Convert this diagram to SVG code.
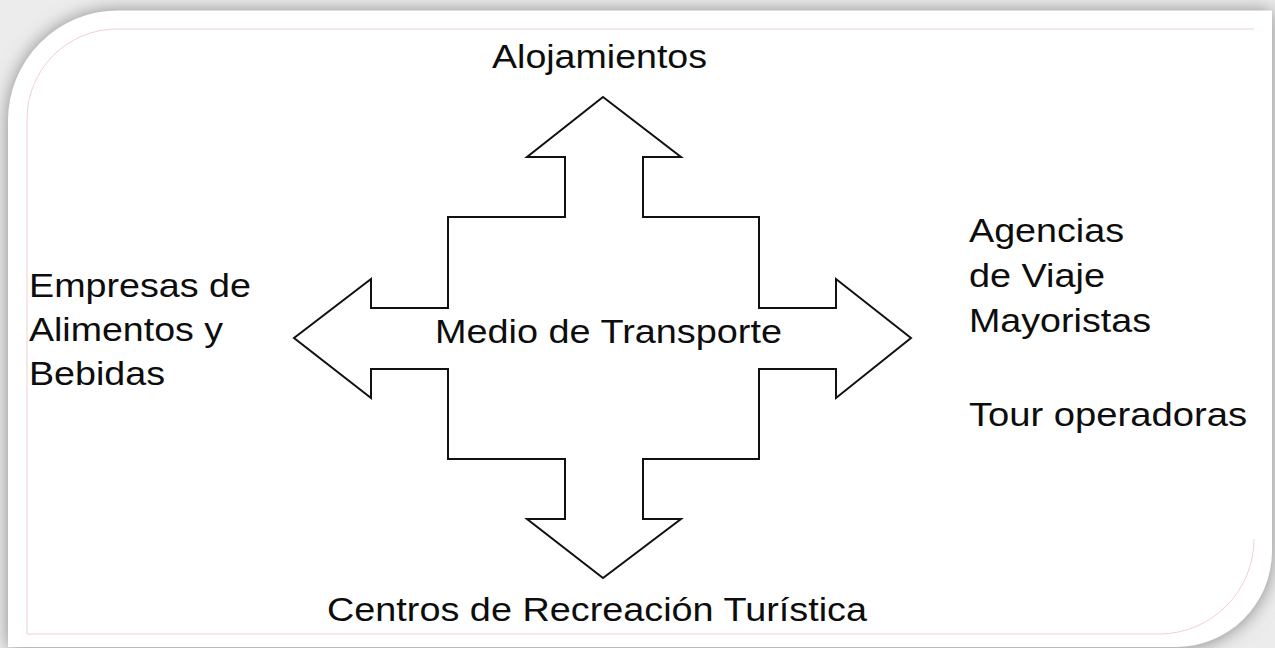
<svg xmlns="http://www.w3.org/2000/svg" width="1275" height="648" viewBox="0 0 1275 648">
  <style>
    .lbl { font-family: "Liberation Sans", Arial, sans-serif; font-size: 33px; fill: #0d0d0d; }
    .cross { fill: #ffffff; stroke: #111111; stroke-width: 2; stroke-linejoin: miter; }
    .inner { fill: none; stroke: #f3cfd0; stroke-width: 1; }
  </style>
  <defs>
    <filter id="shadow" x="-10%" y="-10%" width="120%" height="120%">
      <feGaussianBlur stdDeviation="9"/>
    </filter>
  </defs>

  <g id="background">
    <rect x="0" y="0" width="1275" height="648" fill="#ececec"/>
    <path d="M118,10.5 H1272 V552 A96,96 0 0 1 1176,648 H8 V120.5 A110,110 0 0 1 118,10.5 Z" fill="#8a8a8a" filter="url(#shadow)"/>
    <path d="M118,10.5 H1272 V552 A96,96 0 0 1 1176,647 H8 V120.5 A110,110 0 0 1 118,10.5 Z" fill="#ffffff"/>
    <path class="inner" d="M1254,29 H117 A90,90 0 0 0 27,119 V634 H1160 A95,95 0 0 0 1254,539"/>
  </g>

  <g id="medio-transporte">
    <path class="cross" d="M603,97 L681,157 L643,157 L643,217 L759,217 L759,308 L836,308 L836,279 L911,338 L836,398 L836,369 L759,369 L759,459 L643,459 L643,519 L681,519 L603,578 L527,519 L565,519 L565,459 L448,459 L448,369 L371,369 L371,398 L294,338 L371,279 L371,308 L448,308 L448,217 L565,217 L565,157 L527,157 Z"/>
    <text class="lbl" x="435" y="343" textLength="347" lengthAdjust="spacingAndGlyphs">Medio de Transporte</text>
  </g>

  <g id="alojamientos">
    <text class="lbl" x="492" y="68" textLength="215" lengthAdjust="spacingAndGlyphs">Alojamientos</text>
  </g>

  <g id="empresas-alimentos">
    <text class="lbl" x="29" y="297" textLength="222" lengthAdjust="spacingAndGlyphs">Empresas de</text>
    <text class="lbl" x="29" y="341" textLength="194" lengthAdjust="spacingAndGlyphs">Alimentos y</text>
    <text class="lbl" x="29" y="385" textLength="136" lengthAdjust="spacingAndGlyphs">Bebidas</text>
  </g>

  <g id="agencias-viaje">
    <text class="lbl" x="969" y="242" textLength="155" lengthAdjust="spacingAndGlyphs">Agencias</text>
    <text class="lbl" x="969" y="287" textLength="136" lengthAdjust="spacingAndGlyphs">de Viaje</text>
    <text class="lbl" x="969" y="332" textLength="182" lengthAdjust="spacingAndGlyphs">Mayoristas</text>
    <text class="lbl" x="969" y="426" textLength="278" lengthAdjust="spacingAndGlyphs">Tour operadoras</text>
  </g>

  <g id="centros-recreacion">
    <text class="lbl" x="327" y="621" textLength="540" lengthAdjust="spacingAndGlyphs">Centros de Recreación Turística</text>
  </g>

  <g id="connectors"/>
</svg>
